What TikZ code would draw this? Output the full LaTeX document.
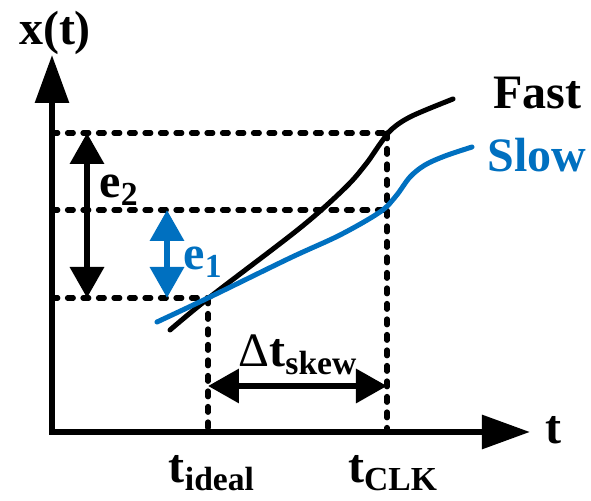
\documentclass[tikz,border=0pt]{standalone}
\usepackage{fontspec}
\setmainfont{Liberation Serif}
\usetikzlibrary{arrows.meta}
\definecolor{slowblue}{RGB}{0,112,192}

\begin{document}
\begin{tikzpicture}[x=0.5pt, y=-0.5pt,
  axis/.style={line width=3pt, {Triangle[length=24pt,width=16.5pt]}-{Triangle[length=24pt,width=16.5pt]}},
  guide/.style={line width=2.6pt, dash pattern=on 2.9pt off 4.85pt, line cap=round},
  span/.style={line width=3.2pt, {Triangle[length=15.5pt,width=16.5pt]}-{Triangle[length=15.5pt,width=16.5pt]}},
  curve/.style={line width=2.5pt, line cap=round, smooth, tension=0.55},
  lbl/.style={font=\fontsize{24}{28}\selectfont\bfseries, inner sep=0pt}]
  \useasboundingbox (0,0) rectangle (591,501);

  % Axis points
  \coordinate (O) at (52,432);
  \coordinate (ytop) at (52,55);
  \coordinate (xend) at (530,432);

  % Levels and times
  \coordinate (hiL) at (52,133);
  \coordinate (midL) at (52,210);
  \coordinate (lowL) at (52,298);
  \coordinate (hiC) at (387,133);
  \coordinate (midC) at (387,210);
  \coordinate (lowI) at (208,298);
  \coordinate (axI) at (208,432);
  \coordinate (axC) at (387,432);

  % Axes
  \draw[axis] (ytop) -- (O) -- (xend);

  % Guide lines
  \draw[guide] (hiL) -- (hiC);
  \draw[guide] (midL) -- (midC);
  \draw[guide] (lowL) -- (lowI);
  \draw[guide] (lowI) -- (axI);
  \draw[guide] (hiC) -- (axC);

  % Responses
  \draw[curve] plot coordinates {(170,330) (210,297) (300,228) (345,188) (366,164) (380,144) (392,129) (412,116) (453,99)};
  \draw[curve, slowblue] plot coordinates {(157,322) (210,297) (290,258) (340,235) (380,212) (396,196) (410,177) (425,165) (445,156) (472,147)};

  % Error and skew arrows
  \coordinate (e2a) at (87,133);
  \coordinate (e2b) at (87,298);
  \coordinate (e1a) at (167,210);
  \coordinate (e1b) at (167,298);
  \coordinate (dta) at (208,386);
  \coordinate (dtb) at (387,386);
  \draw[span] (e2a) -- (e2b);
  \draw[span, slowblue] (e1a) -- (e1b);
  \draw[span] (dta) -- (dtb);

  % Labels
  \node[lbl] (xlab) at (55,33) {x(t)};
  \node[lbl] (tlab) at (553,430) {t};
  \node[lbl] (e2lab) at (119,190) {e\textsubscript{2}};
  \node[lbl, slowblue] (e1lab) at (203,262) {e\textsubscript{1}};
  \node[lbl] (dtlab) at (298,355) {{\mdseries Δ}t\textsubscript{skew}};
  \node[lbl] (tidlab) at (212,473) {t\textsubscript{ideal}};
  \node[lbl] (tclklab) at (393,473) {t\textsubscript{CLK}};
  \node[lbl] (fastlab) at (537,93) {Fast};
  \node[lbl, slowblue] (slowlab) at (537,155) {Slow};
\end{tikzpicture}
\end{document}
